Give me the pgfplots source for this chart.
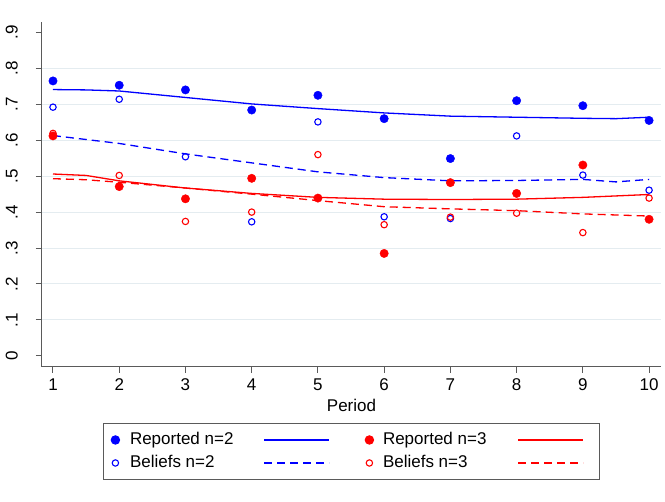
\documentclass[border=0pt]{standalone}
\usepackage{fontspec}
\setmainfont{Liberation Sans}
\usepackage{pgfplots}
\pgfplotsset{compat=1.18}
\definecolor{gridc}{RGB}{228,236,240}
\definecolor{axc}{RGB}{90,90,90}
\definecolor{sblue}{RGB}{0,0,255}
\definecolor{sred}{RGB}{255,0,0}
\pgfplotsset{
  markleg/.style={legend image code/.code={\draw[mark repeat=2,mark phase=2,##1] plot coordinates {(0pt,0pt) (4.6pt,0pt) (9.2pt,0pt)};}},
  lineleg/.style={legend image code/.code={\draw[##1] (0pt,0pt) -- (65pt,0pt);}},
  linelegend/.style={legend image code/.code={\draw[##1] (0pt,0pt) -- (65pt,0pt); \path (72pt,0pt);}},
}
\begin{document}
\fontsize{17}{20}\selectfont
\begin{tikzpicture}
\useasboundingbox (0,0) rectangle (665pt,502pt);
\begin{axis}[
  at={(42pt,135pt)}, anchor=south west,
  scale only axis, width=619pt, height=345pt,
  xmin=0.834, xmax=10.18, ymin=-0.031, ymax=0.929,
  axis x line*=bottom, axis y line*=left,
  axis line style={axc, line width=1pt, -},
  xtick={1,2,3,4,5,6,7,8,9,10},
  xticklabels={1,2,3,4,5,6,7,8,9,10},
  ytick={0,0.1,0.2,0.3,0.4,0.5,0.6,0.7,0.8,0.9},
  yticklabels={0,.1,.2,.3,.4,.5,.6,.7,.8,.9},
  tick align=outside, major tick length=6pt,
  tick style={axc, line width=1pt},
  ticklabel style={font=\fontsize{17}{20}\selectfont},
  yticklabel style={xshift=-18.5pt, rotate=90, anchor=base},
  xticklabel style={anchor=north},
  xlabel={Period},
  xlabel style={font=\fontsize{17}{20}\selectfont, yshift=3pt},
  extra y ticks={0.1,0.2,0.3,0.4,0.5,0.6,0.7,0.8},
  extra y tick labels={},
  extra y tick style={grid=major},
  grid style={gridc, line width=1pt},
  legend columns=4,
  legend style={at={(0.5,-0.1623)}, anchor=north, draw=axc, line width=1pt,
    font=\fontsize{17}{20}\selectfont, fill=white,
    nodes={inner xsep=0pt, inner ysep=0pt, text height=13pt, text depth=3pt},
    /tikz/column 1/.style={column sep=10.4pt},
    /tikz/column 2/.style={column sep=30pt},
    /tikz/column 3/.style={column sep=0pt},
    /tikz/column 4/.style={column sep=34.4pt},
    /tikz/column 5/.style={column sep=9.4pt},
    /tikz/column 6/.style={column sep=31pt},
    /tikz/column 7/.style={column sep=0pt},
    row sep=7pt, inner xsep=7.4pt, inner ysep=8.5pt},
  legend cell align=left,
]
% Reported n=2
\addplot[only marks, mark=*, mark size=4.2pt, sblue, fill=sblue, markleg]
  coordinates {(1,.765)(2,.753)(3,.740)(4,.684)(5,.725)(6,.660)(7,.549)(8,.710)(9,.696)(10,.655)};
\addlegendentry{Reported n=2}
\addplot[sblue, line width=1.3pt, no marks, lineleg]
  coordinates {(1,.741)(1.5,.740)(2,.737)(3,.719)(4,.701)(5,.688)(6,.676)(7,.667)(8,.664)(9,.661)(9.5,.660)(10,.664)};
\addlegendentry{}
% Reported n=3
\addplot[only marks, mark=*, mark size=4.2pt, sred, fill=sred, markleg]
  coordinates {(1,.612)(2,.471)(3,.437)(4,.494)(5,.439)(6,.285)(7,.482)(8,.452)(9,.531)(10,.380)};
\addlegendentry{Reported n=3}
\addplot[sred, line width=1.3pt, no marks, linelegend]
  coordinates {(1,.506)(1.5,.502)(2,.487)(3,.467)(4,.452)(5,.441)(6,.436)(7,.435)(8,.436)(9,.441)(10,.449)};
\addlegendentry{}
% Beliefs n=2
\addplot[only marks, mark=o, mark size=3.2pt, sblue, line width=1.1pt, markleg]
  coordinates {(1,.692)(2,.714)(3,.554)(4,.373)(5,.651)(6,.387)(7,.382)(8,.612)(9,.503)(10,.461)};
\addlegendentry{Beliefs n=2}
\addplot[sblue, line width=1.3pt, no marks, dash pattern=on 8pt off 5pt, lineleg]
  coordinates {(1,.613)(2,.591)(3,.562)(4,.537)(5,.512)(6,.496)(7,.487)(8,.488)(9,.491)(9.5,.484)(10,.491)};
\addlegendentry{}
% Beliefs n=3
\addplot[only marks, mark=o, mark size=3.2pt, sred, line width=1.1pt, markleg]
  coordinates {(1,.619)(2,.502)(3,.374)(4,.400)(5,.560)(6,.365)(7,.386)(8,.397)(9,.343)(10,.439)};
\addlegendentry{Beliefs n=3}
\addplot[sred, line width=1.3pt, no marks, dash pattern=on 8pt off 5pt, linelegend]
  coordinates {(1,.493)(1.5,.490)(2,.483)(3,.467)(4,.450)(5,.432)(6,.415)(7,.409)(8,.404)(9,.395)(10,.389)};
\addlegendentry{}
\end{axis}
\end{tikzpicture}
\end{document}
